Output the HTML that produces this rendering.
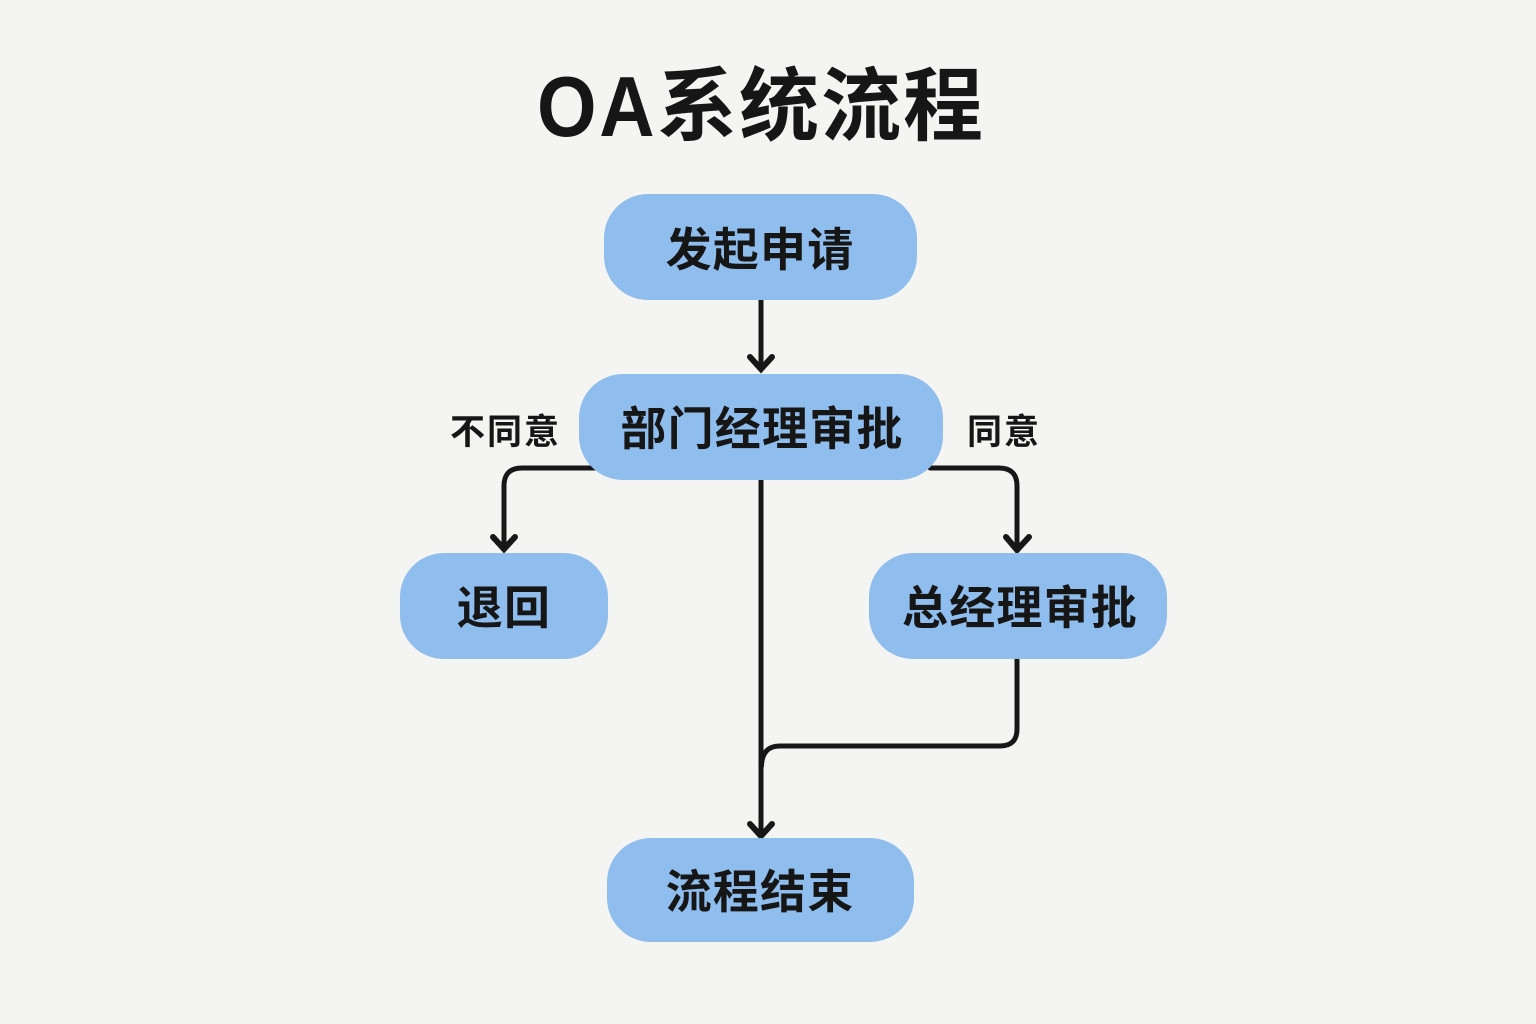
<!DOCTYPE html>
<html lang="zh">
<head>
<meta charset="utf-8">
<style>
html,body{margin:0;padding:0;width:1536px;height:1024px;background:#f4f4f2;overflow:hidden}
svg{display:block}
text{font-family:"Liberation Sans","Noto Sans CJK SC",sans-serif;font-weight:700;fill:#161616}
.n{font-size:46px;letter-spacing:1.2px;text-anchor:middle}
.l{font-size:35px;letter-spacing:2px}
.c{fill:none;stroke:#171717;stroke-width:5;stroke-linecap:round;stroke-linejoin:round}
.a{fill:none;stroke:#171717;stroke-width:6;stroke-linecap:round;stroke-linejoin:miter}
</style>
</head>
<body>
<svg width="1536" height="1024" viewBox="0 0 1536 1024" xmlns="http://www.w3.org/2000/svg">
<rect width="1536" height="1024" fill="#f4f4f2"/>
<text transform="translate(537 136) scale(.9 1)" style="font-size:85px;letter-spacing:3px">OA</text>
<text x="657" y="134" style="font-size:80px;letter-spacing:2px">系统流程</text>

<!-- connectors -->
<g class="c">
<path d="M761 300V367"/>
<path d="M761 479V834"/>
<path d="M1017 658V729Q1017 746 1000 746H780Q762 746 761.5 766"/>
<path d="M595 468H522Q504 468 504 486V547"/>
<path d="M930 468H999Q1017 468 1017 486V548"/>
</g>
<g class="a">
<path d="M750 357L761 369L772 357"/>
<path d="M750 824L761 836L772 824"/>
<path d="M493 537L504 549L515 537"/>
<path d="M1006 537L1017 550L1029 537"/>
</g>

<!-- nodes -->
<g fill="#8fbdee">
<rect x="604" y="194" width="313" height="106" rx="44"/>
<rect x="579" y="374" width="364" height="106" rx="44"/>
<rect x="400" y="553" width="208" height="106" rx="44"/>
<rect x="869" y="553" width="298" height="106" rx="44"/>
<rect x="607" y="838" width="307" height="104" rx="44"/>
</g>

<text class="n" x="760" y="266">发起申请</text>
<text class="n" x="762" y="445">部门经理审批</text>
<text class="n" x="504" y="624">退回</text>
<text class="n" x="1020" y="624">总经理审批</text>
<text class="n" x="760" y="908">流程结束</text>
<text class="l" x="450" y="444">不同意</text>
<text class="l" x="967" y="444">同意</text>
</svg>
</body>
</html>
